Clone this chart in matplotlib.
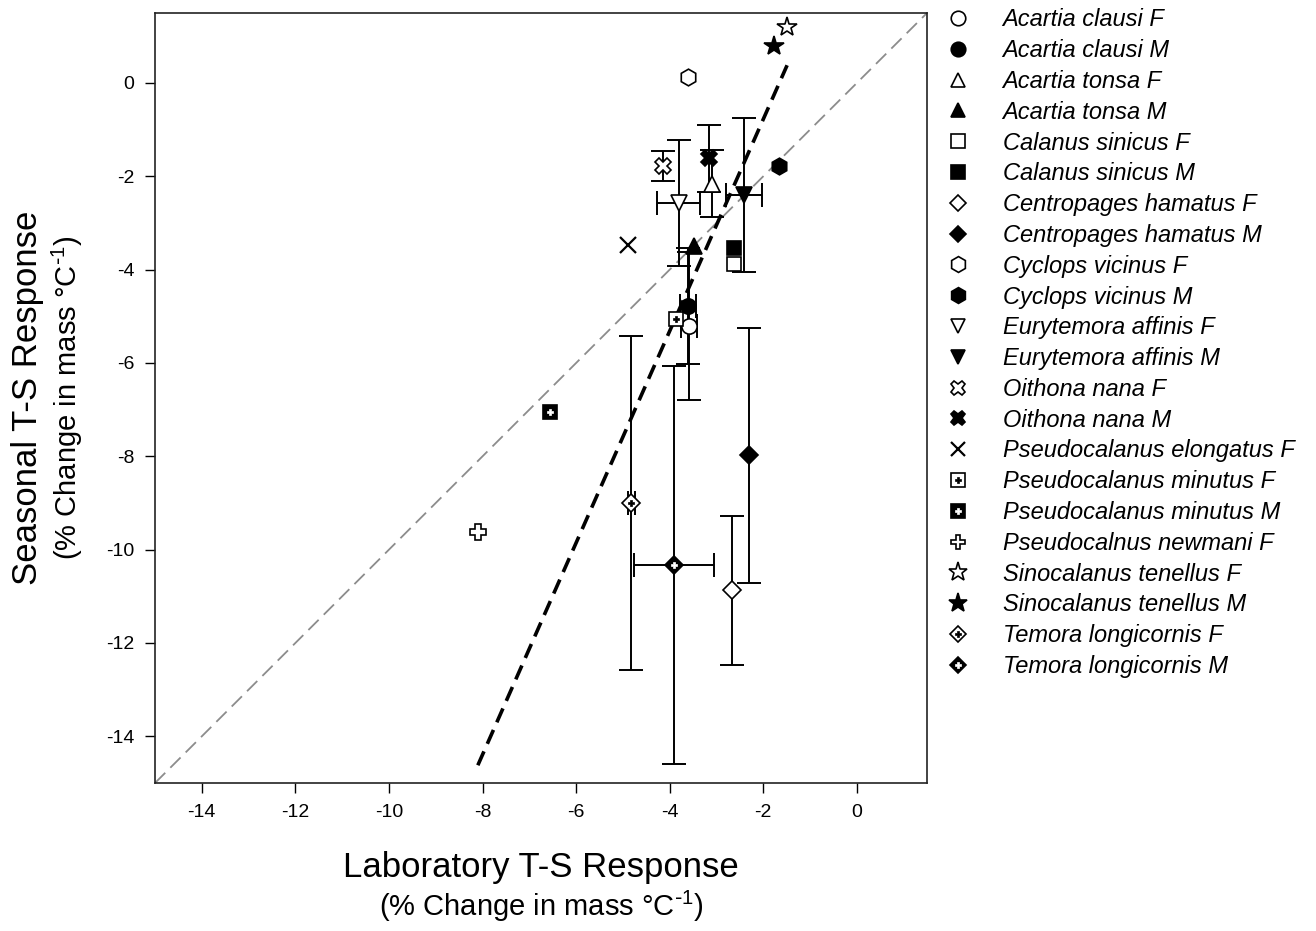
import numpy as np
import matplotlib.pyplot as plt
from matplotlib.lines import Line2D

plt.rcParams['font.family'] = ['Liberation Sans', 'DejaVu Sans']
plt.rcParams['mathtext.default'] = 'regular'
plt.rcParams['axes.unicode_minus'] = False

# ---------------------------------------------------
# Data (lab vs seasonal T-S response)
# ---------------------------------------------------
species = ["Acartia clausi F", "Acartia clausi M", "Acartia tonsa F", "Acartia tonsa M",
           "Calanus sinicus F", "Calanus sinicus M", "Centropages hamatus F",
           "Centropages hamatus M", "Cyclops vicinus F", "Cyclops vicinus M",
           "Eurytemora affinis F", "Eurytemora affinis M", "Oithona nana F",
           "Oithona nana M", "Pseudocalanus elongatus F", "Pseudocalanus minutus F",
           "Pseudocalanus minutus M", "Pseudocalnus newmani F", "Sinocalanus tenellus F",
           "Sinocalanus tenellus M", "Temora longicornis F", "Temora longicornis M"]

lab = [-3.59, -3.61, -3.10, -3.47, -2.62, -2.62, -2.66, -2.30, -3.61, -1.67, -3.81,
       -2.41, -4.15, -3.15, -4.89, -3.86, -6.55, -8.10, -1.49, -1.78, -4.82, -3.91]
seas = [-5.21, -4.78, -2.16, -3.49, -3.88, -3.53, -10.87, -7.98, 0.13, -1.77, -2.57,
        -2.40, -1.77, -1.61, -3.47, -5.05, -7.05, -9.62, 1.21, 0.80, -9.00, -10.33]
lab_err = [0.17, 0.17, 0, 0, 0, 0, 0, 0, 0, 0, 0.46,
           0.38, 0, 0, 0, 0, 0, 0, 0, 0, 0.07, 0.86]
seas_err = [1.58, 1.25, 0.72, 0, 0, 0, 1.60, 2.73, 0, 0, 1.35,
            1.66, 0.32, 0.72, 0, 0, 0, 0, 0, 0, 3.58, 4.26]

# regression line end points
fit_x = [-8.10, -1.49]
fit_y = [-14.62, 0.38]

# ---------------------------------------------------
# Marker styles
# ---------------------------------------------------
markers = ['o', 'o', '^', '^', 's', 's', 'D', 'D', 'h', 'h', 'v', 'v',
           'X', 'X', 'x', 's', 's', 'P', '*', '*', 'D', 'D']
faces = ['white', 'black'] * 7 + ['none', 'white', 'black', 'white', 'white', 'black',
                                   'white', 'black']
sizes = [11, 11, 11, 11, 10, 10, 9, 9, 12, 12, 11, 11,
         11, 11, 11, 10, 10, 11, 15, 15, 9, 9]
inner = [None] * 15 + ['P', 'P', None, None, None, 'P', 'P']
inner_col = [None] * 15 + ['black', 'white', None, None, None, 'black', 'white']

unit_label = r"(% Change in mass °C$^{\text{-}1}$)"

fig = plt.figure(figsize=(13.16, 9.31), dpi=100)
ax = fig.add_axes([155 / 1316, 148 / 931, 772 / 1316, 770 / 931])

ax.plot([-15, 1.5], [-15, 1.5], color='#8c8c8c', lw=1.3, dashes=(8, 4), zorder=1)
ax.plot(fit_x, fit_y, color='black', lw=2.6, dashes=(4.2, 2.3), zorder=3)

handles = []
for i, name in enumerate(species):
    xe = lab_err[i] if lab_err[i] > 0 else None
    ye = seas_err[i] if seas_err[i] > 0 else None
    if xe is not None or ye is not None:
        ax.errorbar(lab[i], seas[i], xerr=xe, yerr=ye, fmt='none', ecolor='black',
                    elinewidth=1.4, capsize=8.5, capthick=1.4, zorder=2)
    mew = 1.6 if markers[i] == 'x' else 1.2
    ax.plot(lab[i], seas[i], marker=markers[i], ms=sizes[i], mfc=faces[i],
            mec='black', mew=mew, ls='none', zorder=4)
    h = Line2D([], [], marker=markers[i], ms=sizes[i] * 0.95, mfc=faces[i],
               mec='black', mew=mew, ls='none')
    if inner[i]:
        ax.plot(lab[i], seas[i], marker=inner[i], ms=5, mfc=inner_col[i],
                mec=inner_col[i], mew=0.5, ls='none', zorder=5)
        h = (h, Line2D([], [], marker=inner[i], ms=5, mfc=inner_col[i],
                       mec=inner_col[i], mew=0.5, ls='none'))
    handles.append(h)

ax.set_xlim(-15, 1.5)
ax.set_ylim(-15, 1.5)
ax.set_xticks(np.arange(-14, 1, 2))
ax.set_yticks(np.arange(-14, 1, 2))
ax.tick_params(direction='out', length=7, width=1, labelsize=14, pad=8,
               top=False, right=False)
for s in ax.spines.values():
    s.set_linewidth(1.2)
    s.set_color('#222222')

fig.legend(handles, species, loc='upper left', bbox_to_anchor=(0.7206, 0.991),
           frameon=False, borderpad=0, borderaxespad=0, handlelength=0.8,
           handletextpad=1.5, labelspacing=0.33, prop={'style': 'italic', 'size': 17})

fig.text(541 / 1316, 1 - 868 / 931, "Laboratory T-S Response", ha='center', va='center',
         fontsize=25)
fig.text(541 / 1316, 1 - 906 / 931, unit_label, ha='center', va='center', fontsize=21)
fig.text(28 / 1316, 1 - 398 / 931, "Seasonal T-S Response", ha='center', va='center',
         fontsize=25, rotation=90)
fig.text(67 / 1316, 1 - 398 / 931, unit_label, ha='center', va='center', fontsize=21,
         rotation=90)

fig.savefig("out.png", dpi=100)
